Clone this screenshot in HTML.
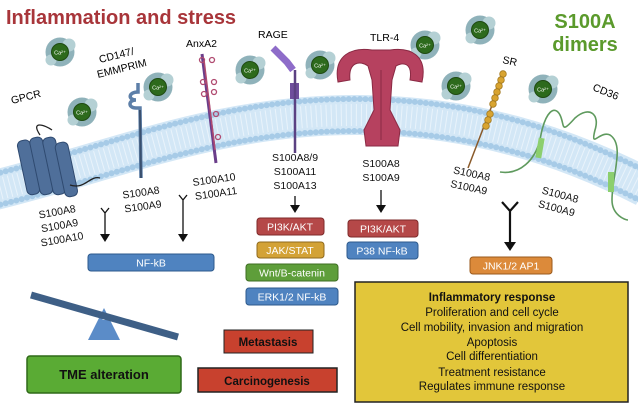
<!DOCTYPE html>
<html><head><meta charset="utf-8"><style>
body{margin:0;background:#fff}
svg{display:block}
text{font-family:"Liberation Sans",sans-serif}
</style></head><body>
<svg width="638" height="412" viewBox="0 0 638 412" xmlns="http://www.w3.org/2000/svg">
<defs>
<g id="ca"><circle r="14.5" fill="#8fb2ba"/><circle cx="9" cy="-7" r="6.5" fill="#b4d0d4"/><circle cx="-9" cy="8" r="5.5" fill="#b4d0d4"/><circle r="8.5" fill="#2d6a1c" stroke="#1f4a12"/><text y="2.5" font-size="5.5" fill="#fff" text-anchor="middle">Ca²⁺</text></g>
</defs>
<!-- membrane -->
<g transform="translate(0,19)">
<path d="M-5,171 C120,140 220,95 360,96 C470,97 560,125 645,168" fill="none" stroke="#d3e7f6" stroke-width="40"/>
<path d="M-5,171 C120,140 220,95 360,96 C470,97 560,125 645,168" fill="none" stroke="#e9f3fb" stroke-width="22" stroke-dasharray="1 4"/>
<path transform="translate(0,-16)" d="M-5,171 C120,140 220,95 360,96 C470,97 560,125 645,168" fill="none" stroke="#a7cbe7" stroke-width="6" stroke-linecap="round" stroke-dasharray="0 5.5"/>
<path transform="translate(0,16)" d="M-5,171 C120,140 220,95 360,96 C470,97 560,125 645,168" fill="none" stroke="#a7cbe7" stroke-width="6" stroke-linecap="round" stroke-dasharray="0 5.5"/>
</g>
<!-- titles -->
<text x="6" y="24" font-size="20" font-weight="bold" fill="#a8353a">Inflammation and stress</text>
<text x="585" y="28" font-size="20" font-weight="bold" fill="#5b9a2c" text-anchor="middle">S100A</text>
<text x="585" y="51" font-size="20" font-weight="bold" fill="#5b9a2c" text-anchor="middle">dimers</text>
<!-- Ca ions -->
<use href="#ca" x="60" y="52"/><use href="#ca" x="82" y="112"/><use href="#ca" x="158" y="87"/>
<use href="#ca" x="250" y="70"/><use href="#ca" x="320" y="65"/><use href="#ca" x="425" y="45"/>
<use href="#ca" x="480" y="30"/><use href="#ca" x="456" y="86"/><use href="#ca" x="543" y="89"/>
<!-- receptor labels -->
<text x="12" y="104" font-size="10.5" transform="rotate(-14 12 104)">GPCR</text>
<text x="100" y="63" font-size="10.5" transform="rotate(-14 100 63)">CD147/</text>
<text x="98" y="78" font-size="10.5" transform="rotate(-14 98 78)">EMMPRIM</text>
<text x="186" y="47" font-size="10.5">AnxA2</text>
<text x="258" y="38" font-size="10.5">RAGE</text>
<text x="370" y="41" font-size="10.5">TLR-4</text>
<text x="502" y="63" font-size="10.5" transform="rotate(12 502 63)">SR</text>
<text x="592" y="90" font-size="10.5" transform="rotate(22 592 90)">CD36</text>
<!-- GPCR -->
<g fill="#4f6f9a" stroke="#2f4a70" stroke-width="1">
<rect x="22" y="140" width="13" height="55" rx="5" transform="rotate(-12 28 167)"/>
<rect x="35" y="137" width="13" height="58" rx="5" transform="rotate(-12 41 167)"/>
<rect x="48" y="137" width="13" height="58" rx="5" transform="rotate(-12 54 167)"/>
<rect x="60" y="142" width="13" height="55" rx="5" transform="rotate(-12 66 170)"/>
</g>
<path d="M40,135 C30,120 45,125 52,130 M70,185 C85,190 90,175 100,178" fill="none" stroke="#222" stroke-width="1.3"/>
<!-- CD147 -->
<path d="M138,83 L138,92 C128,92 128,100 136,100 C128,100 128,108 136,108 L140,108 L141,178" fill="none" stroke="#5d7fa8" stroke-width="3.5"/>
<line x1="140" y1="110" x2="141" y2="178" stroke="#3a506e" stroke-width="2"/>
<!-- AnxA2 -->
<line x1="202" y1="54" x2="216" y2="163" stroke="#6a3d8a" stroke-width="3"/>
<line x1="204" y1="60" x2="215" y2="150" stroke="#b04a70" stroke-width="1.5"/>
<g fill="none" stroke="#b04a70" stroke-width="1.3"><circle cx="202" cy="60" r="2.5"/><circle cx="212" cy="60" r="2.5"/><circle cx="203" cy="82" r="2.5"/><circle cx="214" cy="82" r="2.5"/><circle cx="204" cy="94" r="2.5"/><circle cx="214" cy="92" r="2.5"/><circle cx="216" cy="114" r="2.5"/><circle cx="218" cy="137" r="2.5"/></g>
<!-- RAGE -->
<path d="M273,48 L287,62 L293,70" stroke="#8e6cc9" stroke-width="7" fill="none"/>
<rect x="290" y="83" width="9" height="16" fill="#6f4e9c"/>
<line x1="295" y1="70" x2="295" y2="153" stroke="#5b4182" stroke-width="2.5"/>
<!-- TLR-4 -->
<path d="M372,50 L390,50 C410,47 428,55 422,82 L410,80 C413,62 402,62 396,66 L392,80 L390,110 L400,130 L398,146 L366,146 L364,130 L374,110 L372,80 L368,66 C360,60 348,62 350,80 L338,82 C333,55 352,47 372,50 Z" fill="#b6415f" stroke="#8a2a44"/>
<line x1="381" y1="70" x2="381" y2="140" stroke="#8a2a44" stroke-width="1"/>
<!-- SR -->
<line x1="504" y1="74" x2="468" y2="168" stroke="#8a5a2a" stroke-width="1.5"/>
<g fill="#d9a430" stroke="#a47a20" stroke-width="0.8"><circle cx="503" cy="74" r="3.3"/><circle cx="501" cy="80" r="3.3"/><circle cx="499" cy="86" r="3.3"/><circle cx="497" cy="92" r="3.3"/><circle cx="495" cy="98" r="3.3"/><circle cx="493" cy="104" r="3.3"/><circle cx="490" cy="114" r="3.3"/><circle cx="488" cy="120" r="3.3"/><circle cx="486" cy="126" r="3.3"/></g>
<!-- CD36 -->
<path d="M500,172 C520,175 535,160 540,140 C545,110 555,105 560,115 C565,125 560,135 575,118 C590,105 600,115 595,130 C590,150 600,130 610,135 C625,145 612,175 612,200 C612,215 625,220 628,220" fill="none" stroke="#5f9a5e" stroke-width="1.6"/>
<rect x="537" y="138" width="6" height="20" fill="#8ccf6e" transform="rotate(10 540 148)"/>
<rect x="608" y="172" width="6" height="20" fill="#8ccf6e"/>
<!-- ligand labels -->
<g font-size="10.5" fill="#111">
<g transform="rotate(-10 60 228)"><text x="60" y="215" text-anchor="middle">S100A8</text><text x="60" y="229" text-anchor="middle">S100A9</text><text x="60" y="243" text-anchor="middle">S100A10</text></g>
<g transform="rotate(-8 142 200)"><text x="142" y="196" text-anchor="middle">S100A8</text><text x="142" y="210" text-anchor="middle">S100A9</text></g>
<g transform="rotate(-8 215 186)"><text x="215" y="183" text-anchor="middle">S100A10</text><text x="215" y="197" text-anchor="middle">S100A11</text></g>
<text x="295" y="161" text-anchor="middle">S100A8/9</text><text x="295" y="175" text-anchor="middle">S100A11</text><text x="295" y="189" text-anchor="middle">S100A13</text>
<text x="381" y="167" text-anchor="middle">S100A8</text><text x="381" y="181" text-anchor="middle">S100A9</text>
<g transform="rotate(12 470 182)"><text x="470" y="177" text-anchor="middle">S100A8</text><text x="470" y="191" text-anchor="middle">S100A9</text></g>
<g transform="rotate(15 558 203)"><text x="558" y="198" text-anchor="middle">S100A8</text><text x="558" y="212" text-anchor="middle">S100A9</text></g>
</g>
<!-- arrows -->
<g stroke="#111" stroke-width="1.3" fill="none">
<path d="M101,208 L105,213 L109,208 M105,213 V236"/>
<path d="M179,195 L183,200 L187,195 M183,200 V236"/>
<path d="M295,196 V206"/><path d="M381,190 V206"/>
<path d="M502,202 L510,211 L518,202 M510,211 V244" stroke-width="2.2"/>
</g>
<g fill="#111"><path d="M100,234 h10 l-5,8z"/><path d="M178,234 h10 l-5,8z"/><path d="M290,205 h10 l-5,8z"/><path d="M376,205 h10 l-5,8z"/><path d="M504,242 h12 l-6,9z"/></g>
<!-- pathway boxes -->
<g font-size="10.5" fill="#fff" text-anchor="middle">
<rect x="88" y="254" width="126" height="17" rx="3" fill="#4f83c0" stroke="#2d5a8c"/><text x="151" y="266.5">NF-kB</text>
<rect x="257" y="218" width="67" height="17" rx="3" fill="#b54848" stroke="#7e2a2a"/><text x="290" y="230.5">PI3K/AKT</text>
<rect x="257" y="242" width="67" height="16" rx="3" fill="#d3a236" stroke="#8f6a1c"/><text x="290" y="254">JAK/STAT</text>
<rect x="246" y="264" width="92" height="17" rx="3" fill="#5e9e3a" stroke="#3d6d22"/><text x="292" y="276.5">Wnt/B-catenin</text>
<rect x="246" y="288" width="92" height="17" rx="3" fill="#4f83c0" stroke="#2d5a8c"/><text x="292" y="300.5">ERK1/2 NF-kB</text>
<rect x="348" y="220" width="70" height="17" rx="3" fill="#b54848" stroke="#7e2a2a"/><text x="383" y="232.5">PI3K/AKT</text>
<rect x="347" y="242" width="71" height="17" rx="3" fill="#4f83c0" stroke="#2d5a8c"/><text x="382" y="254.5">P38  NF-kB</text>
<rect x="470" y="257" width="82" height="17" rx="3" fill="#dc8a3a" stroke="#9a5a1c"/><text x="511" y="269.5">JNK1/2 AP1</text>
</g>
<!-- seesaw -->
<polygon points="104,308 88,340 120,340" fill="#5b8cc8"/>
<circle cx="104" cy="318" r="2" fill="#fff"/>
<line x1="31" y1="295" x2="178" y2="337" stroke="#3e5f86" stroke-width="7"/>
<!-- outcome boxes -->
<rect x="27" y="356" width="154" height="37" rx="3" fill="#5aab34" stroke="#2f6a18" stroke-width="1.5"/>
<text x="104" y="379" font-size="13" font-weight="bold" text-anchor="middle" fill="#111">TME alteration</text>
<rect x="224" y="330" width="89" height="23" fill="#c8412e" stroke="#222"/>
<text x="268" y="346" font-size="11.5" font-weight="bold" text-anchor="middle" fill="#111">Metastasis</text>
<rect x="198" y="368" width="139" height="24" fill="#c8412e" stroke="#222" stroke-width="1.5"/>
<text x="267" y="385" font-size="11.5" font-weight="bold" text-anchor="middle" fill="#111">Carcinogenesis</text>
<rect x="355" y="282" width="273" height="120" fill="#e2c63a" stroke="#222" stroke-width="1.5"/>
<g font-size="11.5" text-anchor="middle" fill="#111">
<text x="492" y="301" font-weight="bold">Inflammatory response</text>
<text x="492" y="316">Proliferation and cell cycle</text>
<text x="492" y="331">Cell mobility, invasion and migration</text>
<text x="492" y="346">Apoptosis</text>
<text x="492" y="360">Cell differentiation</text>
<text x="492" y="376">Treatment resistance</text>
<text x="492" y="390">Regulates immune response</text>
</g>
</svg>
</body></html>
